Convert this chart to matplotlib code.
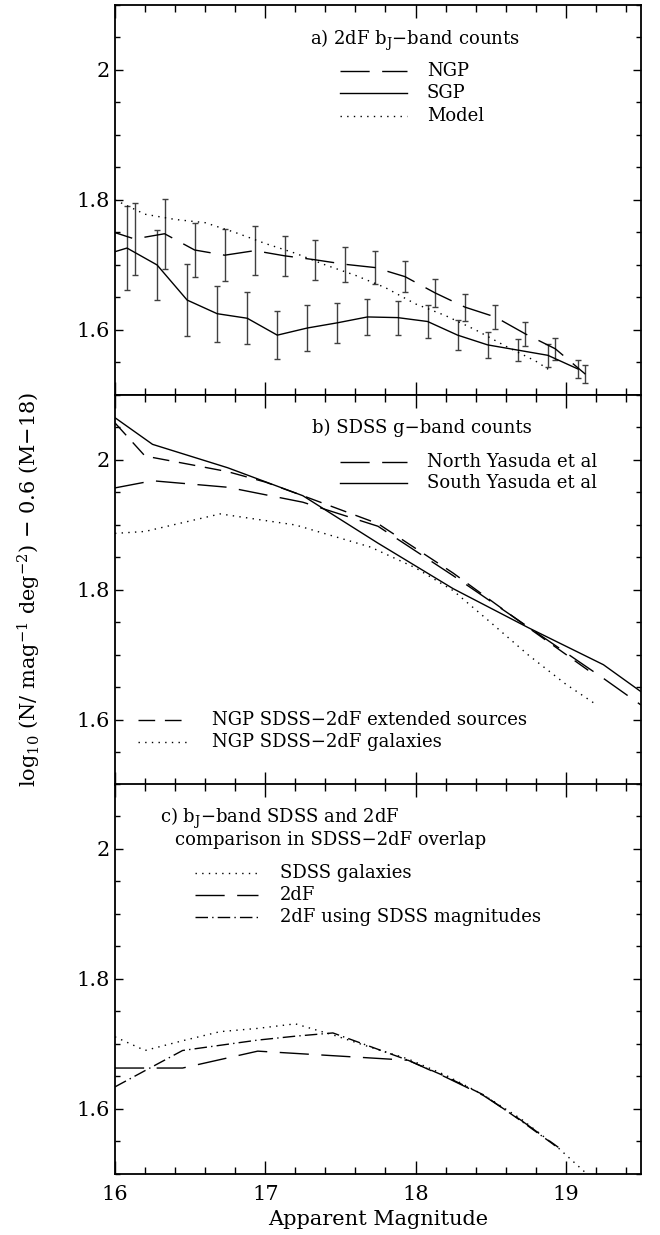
import matplotlib
matplotlib.use('Agg')
import matplotlib.pyplot as plt
from matplotlib.ticker import MultipleLocator, FormatStrFormatter

plt.rcParams['font.family'] = ['DejaVu Serif']
plt.rcParams['mathtext.fontset'] = 'dejavuserif'

# a) 2dF bJ-band counts
ngp_mag = [15.93, 16.13, 16.33, 16.53, 16.73, 16.93, 17.13, 17.33, 17.53,
           17.73, 17.93, 18.13, 18.33, 18.53, 18.73, 18.93, 19.13]
ngp_val = [1.755, 1.740, 1.748, 1.723, 1.715, 1.722, 1.714, 1.708, 1.701,
           1.696, 1.682, 1.657, 1.635, 1.620, 1.594, 1.571, 1.532]
ngp_err = [0.055, 0.055, 0.054, 0.041, 0.040, 0.038, 0.031, 0.031, 0.027,
           0.025, 0.024, 0.021, 0.021, 0.019, 0.018, 0.017, 0.014]
sgp_mag = [15.88, 16.08, 16.28, 16.48, 16.68, 16.88, 17.08, 17.28, 17.48,
           17.68, 17.88, 18.08, 18.28, 18.48, 18.68, 18.88, 19.08]
sgp_val = [1.712, 1.726, 1.700, 1.646, 1.625, 1.618, 1.592, 1.603, 1.611,
           1.620, 1.619, 1.613, 1.592, 1.577, 1.569, 1.561, 1.540]
sgp_err = [0.064, 0.064, 0.054, 0.055, 0.043, 0.040, 0.037, 0.035, 0.031,
           0.027, 0.026, 0.025, 0.023, 0.020, 0.017, 0.018, 0.014]
model_mag = [16.0, 16.2, 16.4, 16.6, 16.8, 17.0, 17.2, 17.4, 17.6, 17.8,
             18.0, 18.2, 18.4, 18.6, 18.8, 18.9]
model_val = [1.800, 1.778, 1.770, 1.765, 1.750, 1.733, 1.718, 1.700, 1.684,
             1.665, 1.640, 1.622, 1.600, 1.575, 1.552, 1.537]

# b) SDSS g-band counts
north_mag = [16.0, 16.25, 16.75, 17.25, 17.75, 18.25, 18.75, 19.25, 19.5]
north_val = [1.957, 1.968, 1.958, 1.935, 1.898, 1.822, 1.743, 1.664, 1.623]
south_mag = [15.75, 16.25, 16.75, 17.25, 17.75, 18.25, 18.75, 19.25, 19.75]
south_val = [2.106, 2.024, 1.988, 1.945, 1.872, 1.802, 1.742, 1.685, 1.602]
ext_mag = [16.0, 16.2, 16.5, 16.75, 17.0, 17.25, 17.75, 18.25, 18.75, 19.2]
ext_val = [2.057, 2.006, 1.993, 1.982, 1.966, 1.945, 1.902, 1.826, 1.742, 1.668]
gal_mag = [16.0, 16.2, 16.7, 17.2, 17.45, 17.7, 18.0, 18.25, 18.5, 18.75, 19.0, 19.2]
gal_val = [1.887, 1.890, 1.917, 1.900, 1.883, 1.866, 1.834, 1.799, 1.750,
           1.700, 1.655, 1.624]

# c) bJ-band SDSS and 2dF comparison
sdss_mag = [16.0, 16.2, 16.45, 16.7, 16.95, 17.2, 17.45, 17.7, 17.95, 18.2,
            18.45, 18.7, 18.95, 19.15]
sdss_val = [1.711, 1.690, 1.705, 1.719, 1.724, 1.731, 1.714, 1.695, 1.677,
            1.652, 1.622, 1.585, 1.540, 1.498]
tdf_mag = [16.0, 16.45, 16.95, 17.95, 18.2, 18.45, 18.7, 18.95]
tdf_val = [1.663, 1.663, 1.689, 1.675, 1.649, 1.621, 1.583, 1.541]
tdfs_mag = [16.0, 16.2, 16.45, 16.7, 16.95, 17.2, 17.45, 17.7, 17.95, 18.2,
            18.45, 18.7, 18.95]
tdfs_val = [1.634, 1.659, 1.690, 1.698, 1.706, 1.712, 1.717, 1.696, 1.675,
            1.650, 1.622, 1.582, 1.540]

LONG = (0, (21, 9))
SHORT = (0, (12, 7))
DOT = (0, (1, 3.8))
DASHDOT = (0, (9, 3, 1, 3))

fig = plt.figure(figsize=(6.6, 12.35), dpi=100)
left, width, h = 0.1742, 0.797, 0.3158
ax_a = fig.add_axes([left, 0.6802, width, h])
ax_b = fig.add_axes([left, 0.3644, width, h])
ax_c = fig.add_axes([left, 0.0494, width, h])

for ax in (ax_a, ax_b, ax_c):
    ax.set_xlim(16, 19.5)
    ax.set_ylim(1.5, 2.1)
    ax.xaxis.set_major_locator(MultipleLocator(1))
    ax.xaxis.set_minor_locator(MultipleLocator(0.2))
    ax.yaxis.set_major_locator(MultipleLocator(0.2))
    ax.yaxis.set_minor_locator(MultipleLocator(0.05))
    ax.yaxis.set_major_formatter(FormatStrFormatter('%g'))
    ax.tick_params(which='both', direction='in', top=True, right=True,
                   labelsize=15, width=1)
    ax.tick_params(axis='x', which='major', length=9.5)
    ax.tick_params(axis='x', which='minor', length=5)
    ax.tick_params(axis='y', which='major', length=6)
    ax.tick_params(axis='y', which='minor', length=3.6)
    for s in ax.spines.values():
        s.set_linewidth(1.3)
    if ax is not ax_c:
        ax.tick_params(labelbottom=False)


def key(ax, x0, x1, xt, y, ls, text):
    ax.plot([x0, x1], [y, y], color='k', lw=1, ls=ls, transform=ax.transAxes)
    ax.text(xt, y, text, transform=ax.transAxes, fontsize=13, va='center')


# panel a
ax_a.errorbar(ngp_mag, ngp_val, yerr=ngp_err, color='k', lw=1, ls=LONG,
              ecolor='0.25', elinewidth=1, capsize=2)
ax_a.errorbar(sgp_mag, sgp_val, yerr=sgp_err, color='k', lw=1, ls='-',
              ecolor='0.25', elinewidth=1, capsize=2)
ax_a.plot(model_mag, model_val, color='k', lw=1, ls=DOT)
ax_a.text(0.371, 0.910, 'a) 2dF b$_\\mathrm{J}$\u2212band counts',
          transform=ax_a.transAxes, fontsize=13, va='center')
key(ax_a, 0.428, 0.555, 0.593, 0.831, LONG, 'NGP')
key(ax_a, 0.428, 0.555, 0.593, 0.774, '-', 'SGP')
key(ax_a, 0.428, 0.555, 0.593, 0.715, DOT, 'Model')

# panel b
ax_b.plot(north_mag, north_val, color='k', lw=1, ls=LONG)
ax_b.plot(south_mag, south_val, color='k', lw=1, ls='-')
ax_b.plot(ext_mag, ext_val, color='k', lw=1, ls=SHORT)
ax_b.plot(gal_mag, gal_val, color='k', lw=1, ls=DOT)
ax_b.text(0.374, 0.915, 'b) SDSS g\u2212band counts',
          transform=ax_b.transAxes, fontsize=13, va='center')
key(ax_b, 0.428, 0.555, 0.593, 0.829, LONG, 'North Yasuda et al')
key(ax_b, 0.428, 0.555, 0.593, 0.774, '-', 'South Yasuda et al')
key(ax_b, 0.044, 0.143, 0.184, 0.167, SHORT, 'NGP SDSS\u22122dF extended sources')
key(ax_b, 0.044, 0.143, 0.184, 0.110, DOT, 'NGP SDSS\u22122dF galaxies')

# panel c
ax_c.plot(sdss_mag, sdss_val, color='k', lw=1, ls=DOT)
ax_c.plot(tdf_mag, tdf_val, color='k', lw=1, ls=LONG)
ax_c.plot(tdfs_mag, tdfs_val, color='k', lw=1, ls=DASHDOT)
ax_c.text(0.086, 0.913, 'c) b$_\\mathrm{J}$\u2212band SDSS and 2dF',
          transform=ax_c.transAxes, fontsize=13, va='center')
ax_c.text(0.114, 0.856, 'comparison in SDSS\u22122dF overlap',
          transform=ax_c.transAxes, fontsize=13, va='center')
key(ax_c, 0.152, 0.272, 0.314, 0.772, DOT, 'SDSS galaxies')
key(ax_c, 0.152, 0.272, 0.314, 0.715, LONG, '2dF')
key(ax_c, 0.152, 0.272, 0.314, 0.659, DASHDOT, '2dF using SDSS magnitudes')

ax_c.set_xlabel('Apparent Magnitude', fontsize=15, labelpad=4)
ax_c.tick_params(axis='x', pad=8)
fig.text(0.045, 0.523,
         'log$_{10}$ (N/ mag$^{-1}$ deg$^{-2}$) \u2212 0.6 (M\u221218)',
         rotation=90, va='center', ha='center', fontsize=15)

fig.savefig('out.png', dpi=100)
